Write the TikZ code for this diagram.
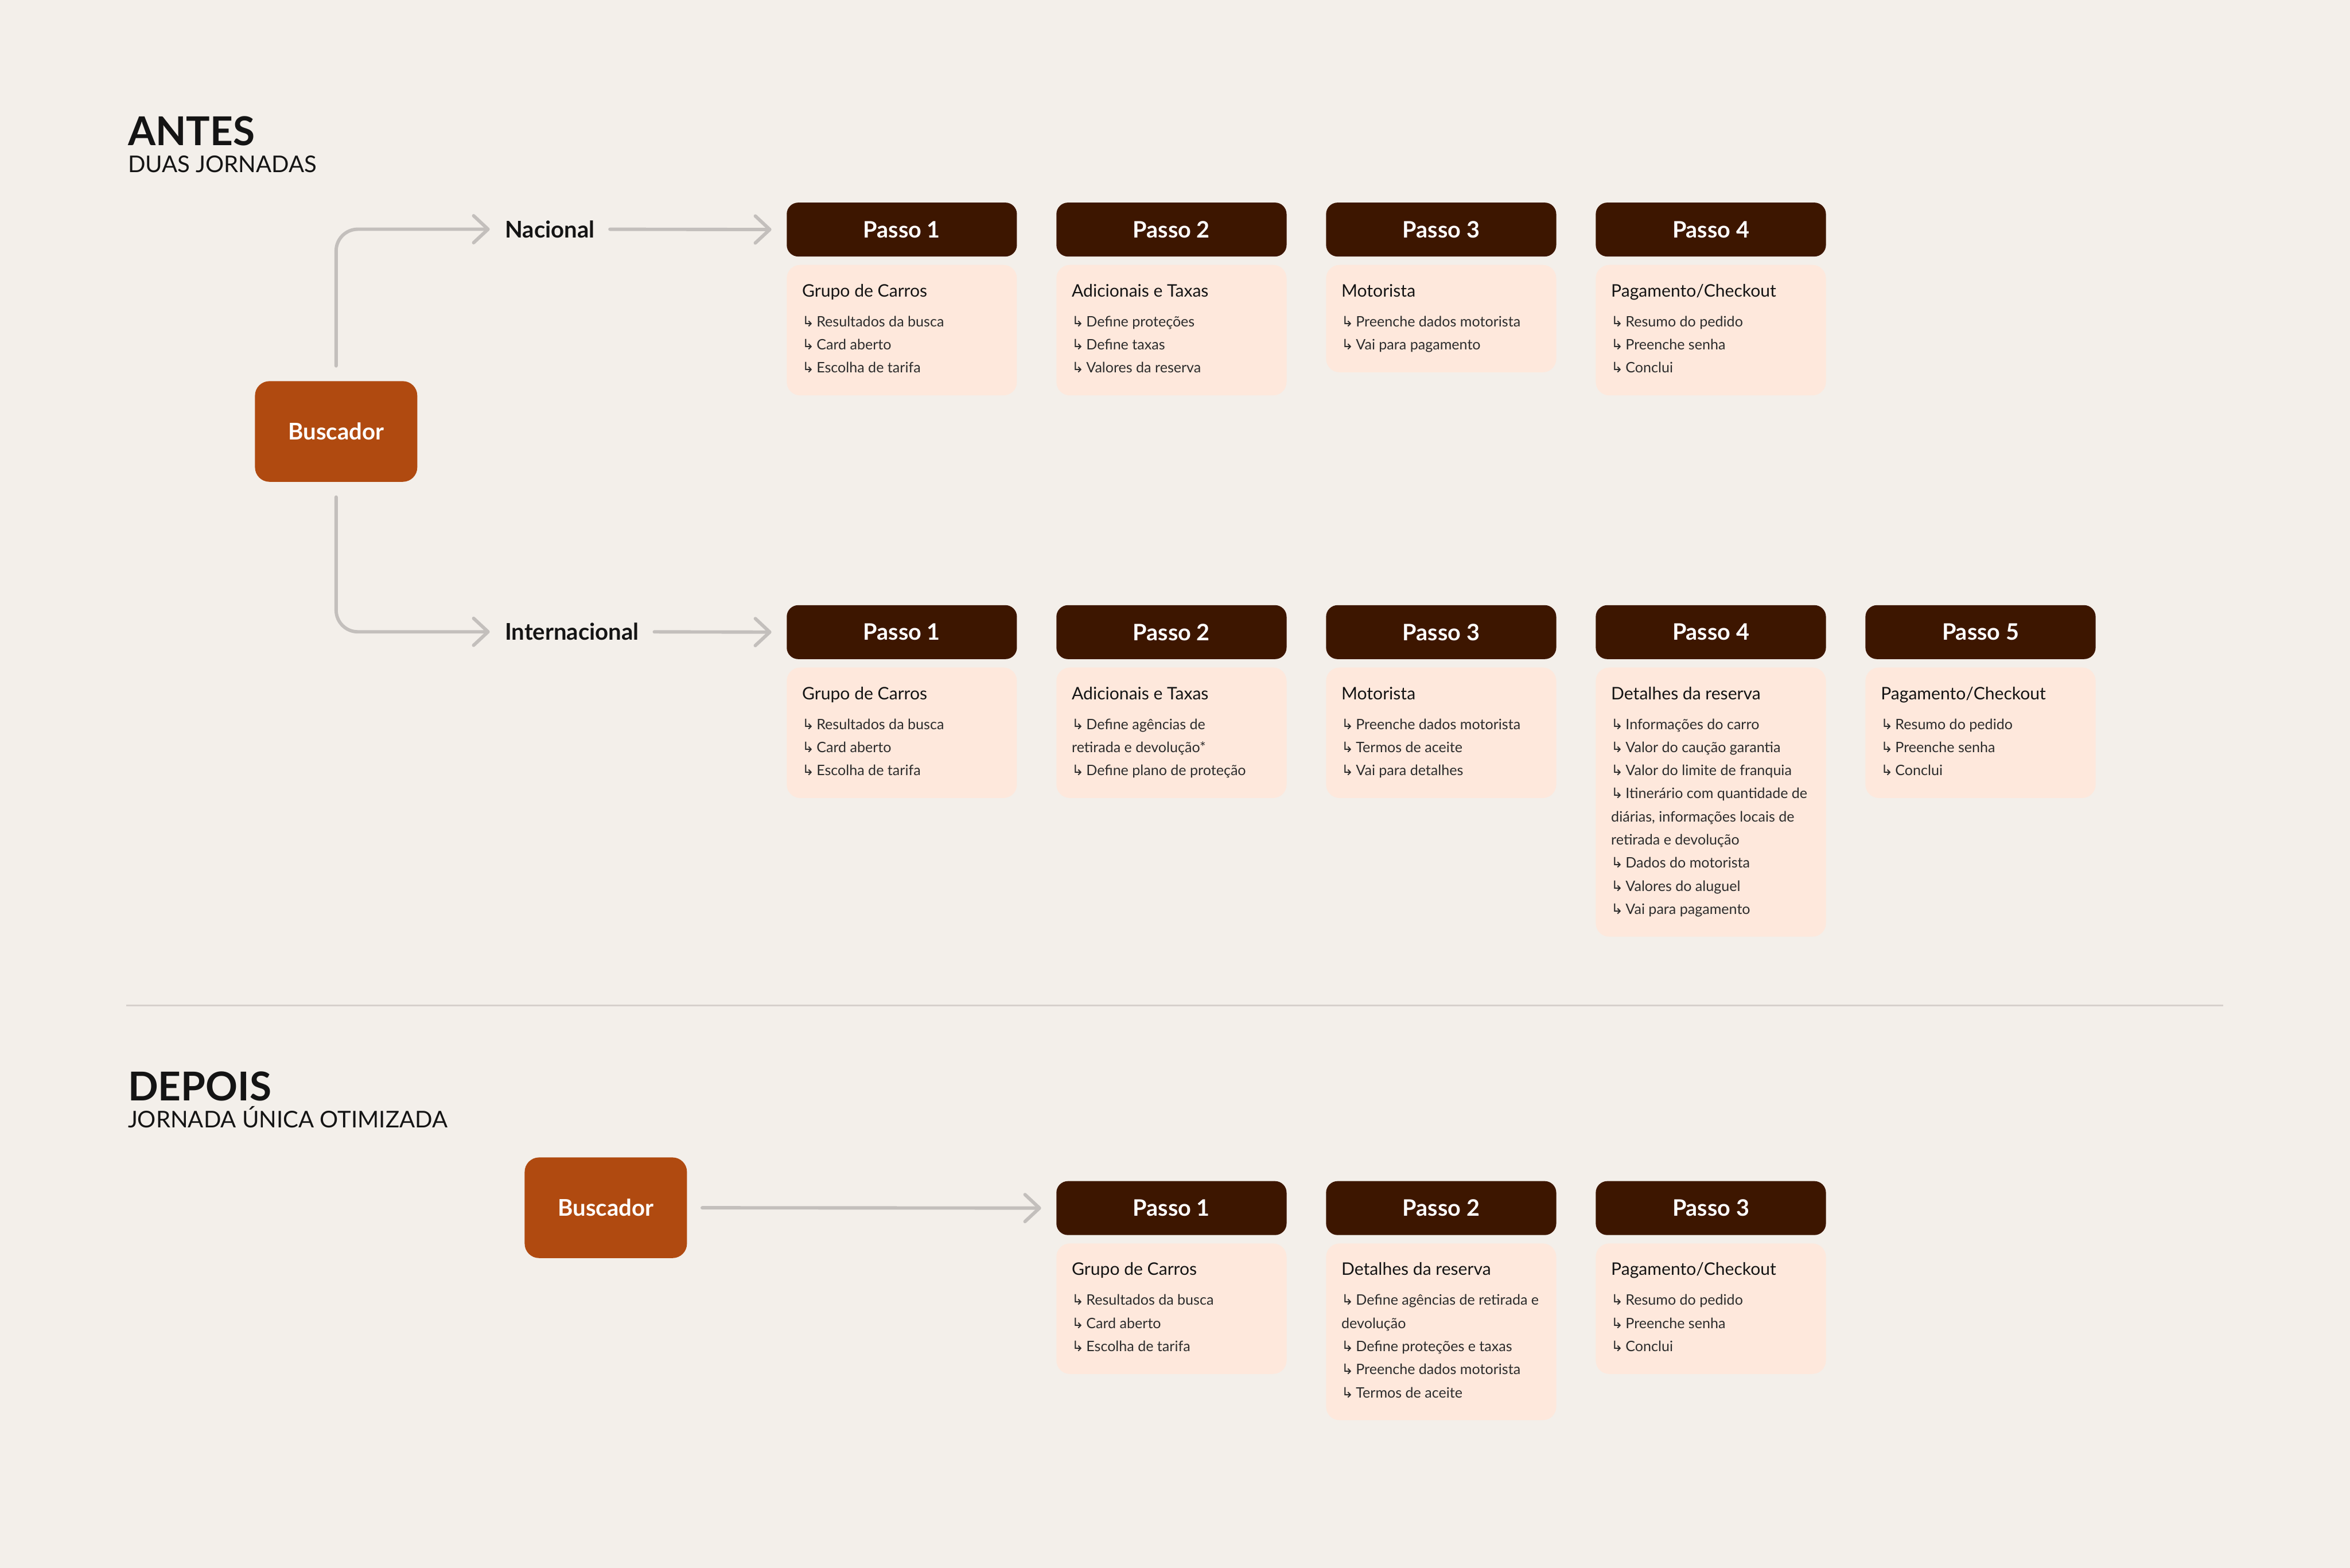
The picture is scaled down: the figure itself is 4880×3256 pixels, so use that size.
\documentclass[tikz,border=0pt]{standalone}
\usepackage{fontspec}
\setmainfont{Lato}
\newfontfamily\setafont{DejaVu Sans}
\usetikzlibrary{arrows.meta}

\definecolor{fundo}{HTML}{F3EFEA}
\definecolor{marrom}{HTML}{3D1600}
\definecolor{pessego}{HTML}{FEE8DC}
\definecolor{laranja}{HTML}{B04A10}
\definecolor{cinza}{HTML}{C3BFBC}
\definecolor{divisor}{HTML}{D6D0CC}
\definecolor{tinta}{HTML}{141414}

\tikzset{
  passo/.style={fill=marrom, rounded corners=2.4mm, minimum width=47.8mm, minimum height=11.2mm,
    inner sep=0pt, anchor=north west, text=white, font=\fontsize{13.4pt}{16pt}\selectfont\bfseries},
  cartao/.style={fill=pessego, rounded corners=2.8mm, minimum width=47.8mm, inner sep=0pt, anchor=north west},
  titcard/.style={anchor=base west, inner sep=0pt, text=tinta, font=\fontsize{10.2pt}{12pt}\selectfont},
  linha/.style={anchor=base west, inner sep=0pt, text=tinta!90, font=\fontsize{8.5pt}{10pt}\selectfont},
  busca/.style={fill=laranja, rounded corners=3mm, minimum width=33.7mm, minimum height=20.9mm,
    inner sep=0pt, text=white, font=\fontsize{13.6pt}{16pt}\selectfont\bfseries},
  rotulo/.style={anchor=west, inner sep=0pt, text=tinta, font=\fontsize{13.6pt}{16pt}\selectfont\bfseries},
  titulo/.style={anchor=base west, inner sep=0pt, text=tinta, font=\fontsize{23.5pt}{27pt}\selectfont\bfseries},
  subtitulo/.style={anchor=base west, inner sep=0pt, text=tinta, font=\fontsize{13.6pt}{16pt}\selectfont},
  fluxo/.style={draw=cinza, line width=0.7mm, line cap=round, rounded corners=4.5mm,
    -{Straight Barb[length=3mm, width=5.6mm, round]}, shorten <=3.1mm, shorten >=3.1mm}
}

\newcommand{\seta}{{\setafont\fontsize{8.5pt}{10pt}\selectfont ↳}\hspace{0.5mm}}

% #1 nome, #2 canto, #3 numero, #4 titulo, #5 qtd de linhas, #6 linhas
\newcommand{\etapa}[6]{
  \node[passo] (#1) at #2 {Passo #3};
  \pgfmathsetmacro{\altura}{12.7+4.8*#5}
  \node[cartao, minimum height=\altura mm] (#1c) at ([yshift=-1.6mm]#1.south west) {};
  \node[titcard] (#1t) at ([xshift=3.2mm, yshift=-6.7mm]#1c.north west) {#4};
  \foreach \l [count=\i] in {#6} {
    \pgfmathsetmacro{\desce}{-6.2-4.8*(\i-1)}
    \node[linha] (#1l\i) at ([yshift=\desce mm]#1t.base west) {\l};
  }
}

\begin{document}
\begin{tikzpicture}[x=0.1mm, y=-0.1mm]
  \fill[fundo] (0,0) rectangle (4880,3256);

  % antes
  \node[titulo] (antes) at (265,302) {ANTES};
  \node[subtitulo] (antesSub) at (265,358) {DUAS JORNADAS};

  \node[busca] (buscaA) at (698,896) {Buscador};
  \node[rotulo] (nac) at (1048,476) {Nacional};
  \node[rotulo] (int) at (1048,1312) {Internacional};

  \etapa{n1}{(1633,420)}{1}{Grupo de Carros}{3}{\seta Resultados da busca, \seta Card aberto, \seta Escolha de tarifa}
  \etapa{n2}{(2193,420)}{2}{Adicionais e Taxas}{3}{\seta Define proteções, \seta Define taxas, \seta Valores da reserva}
  \etapa{n3}{(2753,420)}{3}{Motorista}{2}{\seta Preenche dados motorista, \seta Vai para pagamento}
  \etapa{n4}{(3313,420)}{4}{Pagamento/Checkout}{3}{\seta Resumo do pedido, \seta Preenche senha, \seta Conclui}

  \etapa{i1}{(1633,1256)}{1}{Grupo de Carros}{3}{\seta Resultados da busca, \seta Card aberto, \seta Escolha de tarifa}
  \etapa{i2}{(2193,1256)}{2}{Adicionais e Taxas}{3}{\seta Define agências de, retirada e devolução*, \seta Define plano de proteção}
  \etapa{i3}{(2753,1256)}{3}{Motorista}{3}{\seta Preenche dados motorista, \seta Termos de aceite, \seta Vai para detalhes}
  \etapa{i4}{(3313,1256)}{4}{Detalhes da reserva}{9}{\seta Informações do carro, \seta Valor do caução garantia,
    \seta Valor do limite de franquia, \seta Itinerário com quantidade de, {diárias, informações locais de},
    retirada e devolução, \seta Dados do motorista, \seta Valores do aluguel, \seta Vai para pagamento}
  \etapa{i5}{(3873,1256)}{5}{Pagamento/Checkout}{3}{\seta Resumo do pedido, \seta Preenche senha, \seta Conclui}

  \draw[fluxo] (buscaA.north) |- (nac.west);
  \draw[fluxo] (nac.east) -- (n1.west);
  \draw[fluxo] (buscaA.south) |- (int.west);
  \draw[fluxo] (int.east) -- (i1.west);

  \draw[divisor, line width=0.4mm] (262,2088) -- (4617,2088);

  % depois
  \node[titulo] (depois) at (265,2286) {DEPOIS};
  \node[subtitulo] (depoisSub) at (265,2342) {JORNADA ÚNICA OTIMIZADA};

  \node[busca] (buscaD) at (1258,2508) {Buscador};

  \etapa{d1}{(2193,2452)}{1}{Grupo de Carros}{3}{\seta Resultados da busca, \seta Card aberto, \seta Escolha de tarifa}
  \etapa{d2}{(2753,2452)}{2}{Detalhes da reserva}{5}{\seta Define agências de retirada e, devolução,
    \seta Define proteções e taxas, \seta Preenche dados motorista, \seta Termos de aceite}
  \etapa{d3}{(3313,2452)}{3}{Pagamento/Checkout}{3}{\seta Resumo do pedido, \seta Preenche senha, \seta Conclui}

  \draw[fluxo] (buscaD.east) -- (d1.west);
\end{tikzpicture}
\end{document}
